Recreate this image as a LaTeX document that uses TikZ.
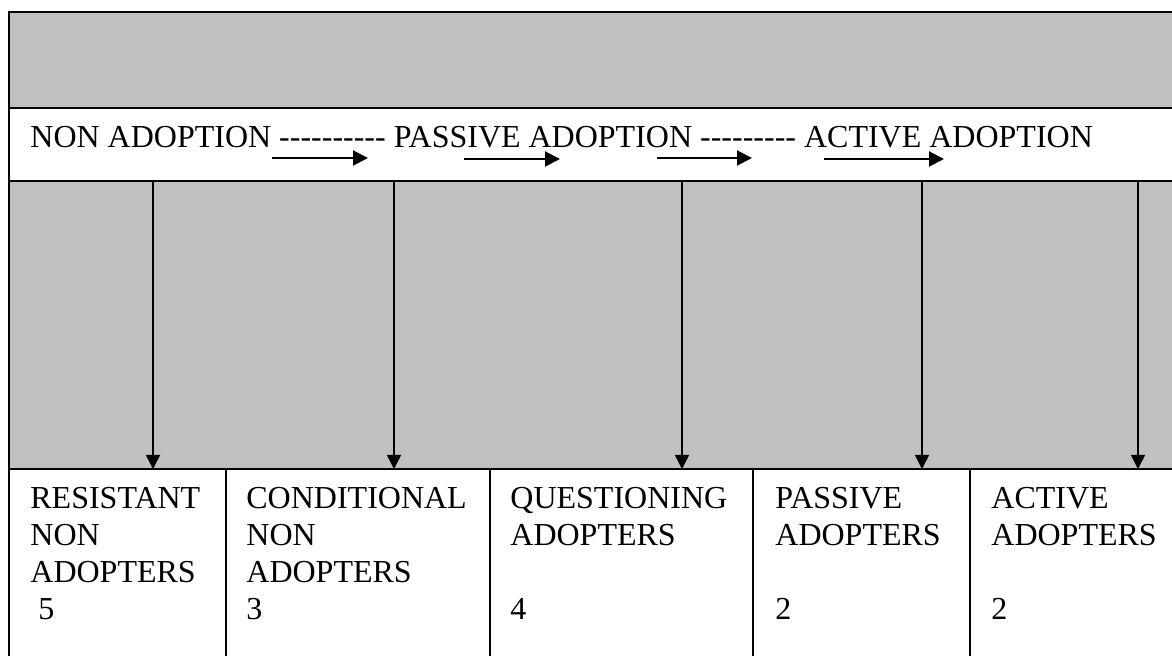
\documentclass[tikz,border=0pt]{standalone}
\usepackage{fontspec}
\setmainfont{Liberation Serif}
\usetikzlibrary{arrows.meta}
\definecolor{panelgray}{HTML}{C0C0C0}
\newcommand\hy{-\kern0pt}
\begin{document}
\begin{tikzpicture}[x=0.5pt,y=-0.5pt,
  frame/.style={draw=black, line width=1pt, rectangle, anchor=north west, inner sep=0pt, outer sep=0pt},
  grayframe/.style={frame, fill=panelgray},
  whiteframe/.style={frame, fill=white},
  lbl/.style={anchor=north west, inner sep=0pt, align=left, font=\fontsize{16}{18.5}\selectfont},
  flow/.style={line width=1pt, -{Triangle[length=7.5pt,width=7.5pt]}},
  drop/.style={line width=0.75pt, -{Triangle[length=7pt,width=7pt]}}]
\useasboundingbox (0,0) rectangle (1172,656);
\clip (0,0) rectangle (1172,656);
% panels
\node[grayframe, minimum width=590.5pt, minimum height=48pt] (top) at (9,12) {};
\node[whiteframe, minimum width=590.5pt, minimum height=36.5pt] (band) at (9,108) {};
\node[grayframe, minimum width=590.5pt, minimum height=144pt] (mid) at (9,181) {};
\node[whiteframe, minimum width=108.5pt, minimum height=100pt] (r1) at (9,469) {};
\node[whiteframe, minimum width=132pt, minimum height=100pt] (r2) at (226,469) {};
\node[whiteframe, minimum width=131.5pt, minimum height=100pt] (r3) at (490,469) {};
\node[whiteframe, minimum width=108.5pt, minimum height=100pt] (r4) at (753,469) {};
\node[whiteframe, minimum width=110pt, minimum height=100pt] (r5) at (970,469) {};
% band text
\node[anchor=base west, inner sep=0pt, font=\fontsize{16}{18.5}\selectfont] (flowtext) at (30,148)
  {NON ADOPTION \hy\hy\hy\hy\hy\hy\hy\hy\hy\hy{} PASSIVE ADOPTION \hy\hy\hy\hy\hy\hy\hy\hy\hy{} ACTIVE ADOPTION};
% horizontal arrows under the text
\coordinate (s1) at (272,158); \coordinate (e1) at (368,158);
\coordinate (s2) at (464,159); \coordinate (e2) at (560,159);
\coordinate (s3) at (657,158); \coordinate (e3) at (752,158);
\coordinate (s4) at (824,159); \coordinate (e4) at (944,159);
\draw[flow] (s1) -- (e1);
\draw[flow] (s2) -- (e2);
\draw[flow] (s3) -- (e3);
\draw[flow] (s4) -- (e4);
% vertical arrows
\coordinate (v1) at (153,181);
\coordinate (v2) at (394,181);
\coordinate (v3) at (682,181);
\coordinate (v4) at (922,181);
\coordinate (v5) at (1138,181);
\draw[drop] (v1) -- (v1 |- r1.north);
\draw[drop] (v2) -- (v2 |- r2.north);
\draw[drop] (v3) -- (v3 |- r3.north);
\draw[drop] (v4) -- (v4 |- r4.north);
\draw[drop] (v5) -- (v5 |- r5.north);
% box labels
\node[lbl] (t1) at (30,487) {RESISTANT\\NON\\ADOPTERS\\\hspace*{4pt}5};
\node[lbl] (t2) at (246,487) {CONDITIONAL\\NON\\ADOPTERS\\3};
\node[lbl] (t3) at (510,487) {QUESTIONING\\ADOPTERS\\[18.5pt]4};
\node[lbl] (t4) at (775,487) {PASSIVE\\ADOPTERS\\[18.5pt]2};
\node[lbl] (t5) at (991,487) {ACTIVE\\ADOPTERS\\[18.5pt]2};
\end{tikzpicture}
\end{document}
